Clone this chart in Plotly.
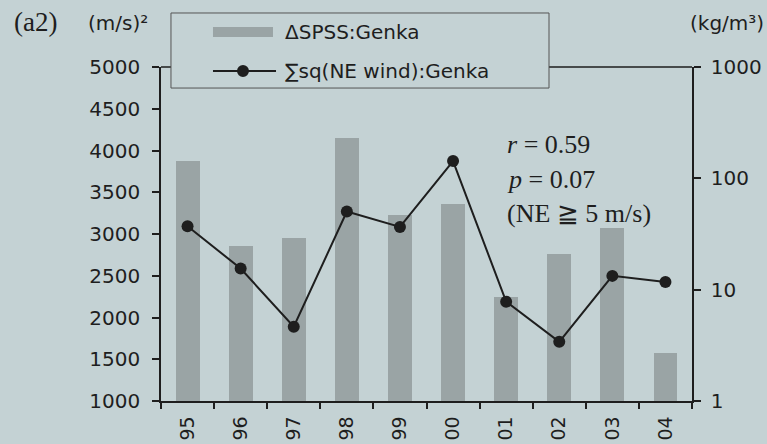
import plotly.graph_objects as go

# Fiscal years (two-digit labels) and the two series for Genka
years = ["95", "96", "97", "98", "99", "00", "01", "02", "03", "04"]
spss_delta = [3877, 2857, 2957, 4145, 3229, 3357, 2240, 2765, 3069, 1572]
ne_wind_sq = [37.1, 15.5, 4.64, 50.3, 36.6, 143, 7.8, 3.4, 13.3, 11.7]

left_ticks = [1000, 1500, 2000, 2500, 3000, 3500, 4000, 4500, 5000]
right_ticks = [1, 10, 100, 1000]

BG = "#c4d2d4"
BAR = "#9aa4a5"
INK = "#1e1e1e"
SANS = "DejaVu Sans"
SERIF = "Liberation Serif"

fig = go.Figure()

fig.add_trace(go.Bar(
    x=years, y=spss_delta, name="ΔSPSS:Genka",
    marker=dict(color=BAR, line=dict(width=0)),
    width=0.45, yaxis="y", showlegend=False,
))

fig.add_trace(go.Scatter(
    x=years, y=ne_wind_sq, name="∑sq(NE wind):Genka",
    mode="lines+markers",
    line=dict(color=INK, width=2),
    marker=dict(color=INK, size=12),
    yaxis="y2", showlegend=False,
))

axis_font = dict(family=SANS, size=20, color=INK)

fig.update_layout(
    width=767, height=444,
    margin=dict(l=161, r=75, t=67, b=43),
    paper_bgcolor=BG, plot_bgcolor=BG,
    bargap=0,
    xaxis=dict(
        type="category", range=[-0.5, 9.5], automargin=False,
        showline=True, linecolor=INK, linewidth=1.5,
        ticks="outside", ticklen=6, tickcolor=INK, tickwidth=1.5,
        tickson="boundaries", tickangle=-90, ticklabelstandoff=6,
        tickfont=dict(family=SANS, size=19, color=INK),
        showgrid=False, zeroline=False,
    ),
    yaxis=dict(
        range=[1000, 5000], tickvals=left_ticks, automargin=False,
        showline=True, linecolor=INK, linewidth=1.5,
        ticks="outside", ticklen=7, tickcolor=INK, tickwidth=1.5,
        tickfont=axis_font, showgrid=False, zeroline=False,
        ticklabelstandoff=8,
    ),
    yaxis2=dict(
        type="log", range=[0, 3], tickvals=right_ticks, automargin=False,
        ticktext=[str(v) for v in right_ticks],
        overlaying="y", side="right",
        showline=True, linecolor=INK, linewidth=1.5,
        ticks="outside", ticklen=7, tickcolor=INK, tickwidth=1.5,
        tickfont=axis_font, showgrid=False, zeroline=False,
        ticklabelstandoff=6,
    ),
)

# Top frame line, hidden behind the legend box
fig.add_shape(type="line", xref="paper", yref="paper",
              x0=0, x1=1, y0=1, y1=1,
              line=dict(color=INK, width=1.5), layer="below")

# Legend box
fig.add_shape(type="rect", xref="paper", yref="paper",
              x0=0.0188, x1=0.7307, y0=0.937, y1=1.1617,
              fillcolor=BG, line=dict(color="#555555", width=1), layer="above")
fig.add_shape(type="rect", xref="paper", yref="paper",
              x0=0.0979, x1=0.2109, y0=1.0898, y1=1.1198,
              fillcolor=BAR, line=dict(width=0), layer="above")
fig.add_shape(type="line", xref="paper", yref="paper",
              x0=0.0979, x1=0.2166, y0=0.988, y1=0.988,
              line=dict(color=INK, width=2), layer="above")
fig.add_shape(type="circle", xref="paper", yref="paper",
              x0=0.1431, x1=0.1657, y0=0.970, y1=1.006,
              fillcolor=INK, line=dict(color=INK, width=0), layer="above")

legend_font = dict(family=SANS, size=20, color=INK)
fig.add_annotation(text="ΔSPSS:Genka", xref="paper", yref="paper",
                   x=0.2298, y=1.1048, xanchor="left", yanchor="middle",
                   showarrow=False, font=legend_font)
fig.add_annotation(text="∑sq(NE wind):Genka", xref="paper", yref="paper",
                   x=0.2298, y=0.988, xanchor="left", yanchor="middle",
                   showarrow=False, font=legend_font)

# Panel tag and axis units
fig.add_annotation(text="(a2)", xref="paper", yref="paper",
                   x=-0.2806, y=1.1347, xanchor="left", yanchor="middle",
                   showarrow=False, font=dict(family=SERIF, size=27, color=INK))
fig.add_annotation(text="(m/s)²", xref="paper", yref="paper",
                   x=-0.0207, y=1.1317, xanchor="right", yanchor="middle",
                   showarrow=False, font=legend_font)
fig.add_annotation(text="(kg/m³)", xref="paper", yref="paper",
                   x=0.9925, y=1.1317, xanchor="left", yanchor="middle",
                   showarrow=False, font=legend_font)

# Correlation statistics
stat_font = dict(family=SERIF, size=26, color=INK)
for txt, yy in [("<i>r</i> = 0.59", 0.7665),
                ("<i>p</i> = 0.07", 0.6617),
                ("(NE ≧ 5 m/s)", 0.5599)]:
    fig.add_annotation(text=txt, xref="paper", yref="paper",
                       x=0.6478, y=yy, xanchor="left", yanchor="middle",
                       showarrow=False, font=stat_font)

fig.write_html("out.html")
